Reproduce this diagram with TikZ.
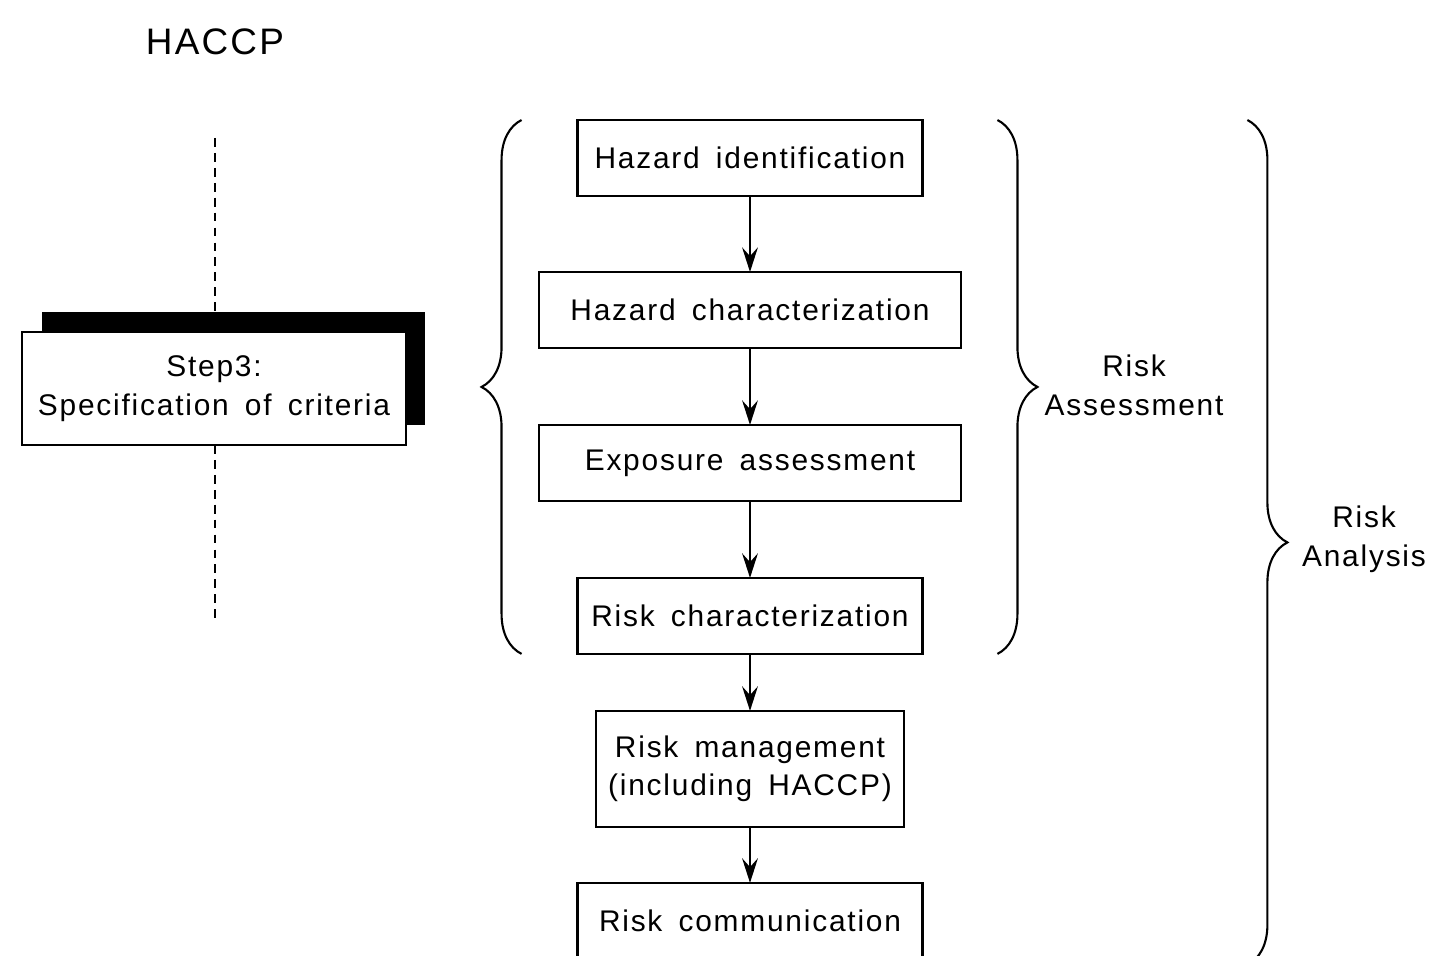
\documentclass[tikz,border=0pt]{standalone}
\usepackage{fontspec}
\setmainfont{Liberation Sans}[LetterSpace=6, WordSpace=1.6]
\usetikzlibrary{positioning,arrows.meta,shadows,decorations.pathreplacing}

\tikzset{
  riskbox/.style={draw, line width=1.2pt, fill=white, align=center, inner sep=0pt,
    outer sep=0pt, minimum height=1.52cm, font=\fontsize{17}{22}\selectfont},
  flow/.style={line width=1.2pt, -{Stealth[length=14pt,width=9pt,inset=5pt]}},
  bracket/.style={line width=1.2pt, decorate, decoration={brace, amplitude=0.8cm}},
  guide/.style={line width=1pt, dash pattern=on 5pt off 3.5pt},
  label/.style={align=center, font=\fontsize{17}{22}\selectfont},
}

\begin{document}
\begin{tikzpicture}[x=0.02cm, y=0.02cm]
  \useasboundingbox (0,0) rectangle (1431,-956);

  % HACCP side
  \node[font=\fontsize{21}{25}\selectfont] (haccp) at (215,-42) {HACCP};
  \node[riskbox, minimum width=7.68cm, minimum height=2.26cm,
    drop shadow={shadow xshift=0.39cm, shadow yshift=0.4cm, fill=black, opacity=1}]
    (crit) at (214,-388.5) {Step3:\\ Specification of criteria};
  \coordinate (dtop) at (215,-138);
  \coordinate (dbot) at (215,-618);
  \draw[guide] (dtop) -- (dtop |- crit.north);
  \draw[guide] (dtop |- crit.south) -- (dbot);

  % risk analysis chain
  \node[riskbox, minimum width=6.9cm] (hazid) at (750,-158) {Hazard identification};
  \node[riskbox, minimum width=8.44cm, below=1.52cm of hazid] (hazchar) {Hazard characterization};
  \node[riskbox, minimum width=8.44cm, below=1.54cm of hazchar] (expo) {Exposure assessment};
  \node[riskbox, minimum width=6.9cm, below=1.54cm of expo] (riskchar) {Risk characterization};
  \node[riskbox, minimum width=6.16cm, minimum height=2.32cm, below=1.14cm of riskchar] (riskman) {Risk management\\(including HACCP)};
  \node[riskbox, minimum width=6.9cm, below=1.12cm of riskman] (riskcom) {Risk communication};

  \draw[flow] (hazid) -- (hazchar);
  \draw[flow] (hazchar) -- (expo);
  \draw[flow] (expo) -- (riskchar);
  \draw[flow] (riskchar) -- (riskman);
  \draw[flow] (riskman) -- (riskcom);

  % braces
  \draw[bracket] ([xshift=-1.12cm]riskchar.south west) -- ([xshift=-1.12cm]hazid.north west);
  \draw[bracket] ([xshift=1.5cm]hazid.north east) -- ([xshift=1.5cm]riskchar.south east);
  \draw[bracket] ([xshift=6.5cm]hazid.north east) -- ([xshift=6.5cm,yshift=-0.12cm]riskcom.south east);

  \node[label] (assess) at (1134,-385) {Risk\\Assessment};
  \node[label] (analysis) at (1364,-539) {Risk\\Analysis};
\end{tikzpicture}
\end{document}
